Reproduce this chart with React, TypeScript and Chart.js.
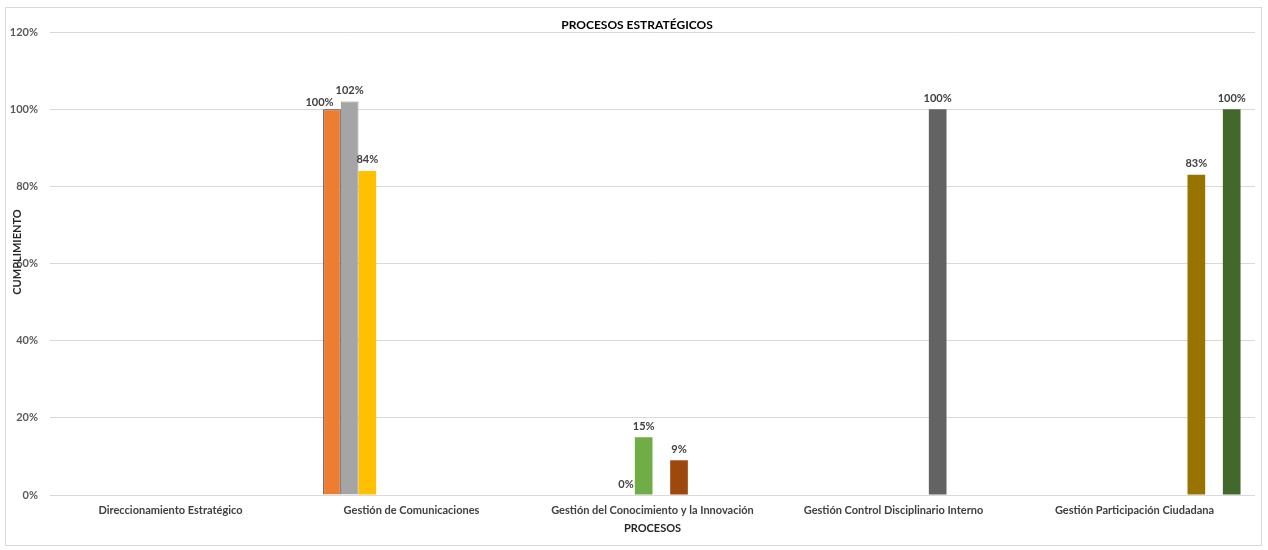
import React, { useEffect, useRef } from "react";
import { Chart, registerables } from "chart.js";

Chart.register(...registerables);

const categories = [
  "Direccionamiento Estratégico",
  "Gestión de Comunicaciones",
  "Gestión del Conocimiento y la Innovación",
  "Gestión Control Disciplinario Interno",
  "Gestión Participación Ciudadana",
];

const serie1 = [null, null, null, null, null];
const serie2 = [null, 1.0, null, null, null];
const serie3 = [null, 1.02, null, null, null];
const serie4 = [null, 0.84, null, null, null];
const serie5 = [null, null, 0, null, null];
const serie6 = [null, null, 0.15, null, null];
const serie7 = [null, null, null, null, null];
const serie8 = [null, null, 0.09, null, null];
const serie9 = [null, null, null, 1.0, null];
const serie10 = [null, null, null, null, 0.83];
const serie11 = [null, null, null, null, null];
const serie12 = [null, null, null, null, 1.0];

const seriesValues = [serie1, serie2, serie3, serie4, serie5, serie6, serie7, serie8, serie9, serie10, serie11, serie12];
const seriesColors = [
  "#4472C4", "#ED7D31", "#A5A5A5", "#FFC000", "#5B9BD5", "#70AD47",
  "#264478", "#9E480E", "#636363", "#997300", "#255E91", "#43682B",
];

const yTicks = [0, 0.2, 0.4, 0.6, 0.8, 1.0, 1.2];

const FONT = "Lato, 'Open Sans', sans-serif";

const fmt = (v: number) => Math.round(v * 100) + "%";

const framePlugin = {
  id: "frame",
  beforeDraw(chart: any) {
    const ctx = chart.ctx;
    ctx.save();
    ctx.fillStyle = "#ffffff";
    ctx.fillRect(0, 0, chart.width, chart.height);
    ctx.strokeStyle = "#d9d9d9";
    ctx.lineWidth = 1;
    ctx.strokeRect(5.5, 7.5, 1256, 538);
    ctx.restore();
  },
  afterDraw(chart: any) {
    const ctx = chart.ctx;
    const area = chart.chartArea;
    ctx.save();
    ctx.fillStyle = "#000000";
    ctx.textAlign = "center";
    ctx.textBaseline = "middle";
    ctx.font = `bold 12px ${FONT}`;
    ctx.fillText("PROCESOS ESTRATÉGICOS", 637, 25);
    ctx.font = `bold 11px ${FONT}`;
    ctx.fillStyle = "#262626";
    ctx.fillText("PROCESOS", (area.left + area.right) / 2, 528);
    ctx.translate(17, 252);
    ctx.rotate(-Math.PI / 2);
    ctx.fillText("CUMPLIMIENTO", 0, 0);
    ctx.restore();
  },
};

const labelPlugin = {
  id: "barLabels",
  afterDatasetsDraw(chart: any) {
    const ctx = chart.ctx;
    ctx.save();
    ctx.font = `bold 11px ${FONT}`;
    ctx.fillStyle = "#404040";
    ctx.textAlign = "center";
    ctx.textBaseline = "middle";
    const items: any[] = [];
    chart.data.datasets.forEach((ds: any, di: number) => {
      const meta = chart.getDatasetMeta(di);
      meta.data.forEach((el: any, i: number) => {
        const v = ds.data[i];
        if (v === null || v === undefined) return;
        const text = fmt(v);
        const w = ctx.measureText(text).width;
        items.push({ text, x: el.x, y: el.y - 11, w, cat: i });
      });
    });
    // avoid overlaps: shift earlier label left/down if it collides with the next one
    for (let k = 0; k < items.length - 1; k++) {
      const a = items[k];
      const b = items[k + 1];
      if (a.cat !== b.cat) continue;
      const overlapX = a.x + a.w / 2 + 2 - (b.x - b.w / 2);
      if (overlapX > 0 && Math.abs(a.y - b.y) < 12) {
        a.x -= overlapX;
        a.y += 4;
      }
    }
    items.forEach((it) => ctx.fillText(it.text, it.x, it.y));
    ctx.restore();
  },
};

export default function App() {
  const ref = useRef<HTMLCanvasElement>(null);
  useEffect(() => {
    if (!ref.current) return;
    const chart = new Chart(ref.current, {
      type: "bar",
      data: {
        labels: categories,
        datasets: seriesValues.map((vals, i) => ({
          label: "Serie " + (i + 1),
          data: vals as any,
          backgroundColor: seriesColors[i],
          borderColor: i === 1 ? "#404040" : i === 2 ? "#8c8c8c" : seriesColors[i],
          borderWidth: i === 1 || i === 2 ? 1 : 0,
          categoryPercentage: 0.88,
          barPercentage: 1.0,
        })),
      },
      options: {
        animation: false,
        responsive: false,
        maintainAspectRatio: false,
        layout: { padding: { top: 32, right: 13, left: 0, bottom: 0 } },
        plugins: {
          legend: { display: false },
          tooltip: { enabled: false },
          title: { display: false },
        },
        scales: {
          x: {
            grid: { display: false, drawTicks: false },
            border: { display: false },
            ticks: {
              padding: 9,
              color: "#404040",
              font: { family: FONT, size: 11, weight: "bold" },
              maxRotation: 0,
              autoSkip: false,
            },
            afterFit(scale: any) {
              scale.height = 55;
            },
          },
          y: {
            min: 0,
            max: 1.2,
            afterBuildTicks(scale: any) {
              scale.ticks = yTicks.map((v) => ({ value: v }));
            },
            grid: { color: "#d9d9d9", drawTicks: false, lineWidth: 1 },
            border: { display: false },
            ticks: {
              padding: 12,
              color: "#595959",
              font: { family: FONT, size: 11, weight: "bold" },
              callback: (v: any) => fmt(Number(v)),
            },
            afterFit(scale: any) {
              scale.width = 50;
            },
          },
        },
      },
      plugins: [framePlugin, labelPlugin],
    });
    return () => chart.destroy();
  }, []);
  return (
    <div style={{ position: "fixed", left: 0, top: 0, width: 1268, height: 550, background: "#fff" }}>
      <canvas ref={ref} width={1268} height={550} style={{ display: "block" }} />
    </div>
  );
}
